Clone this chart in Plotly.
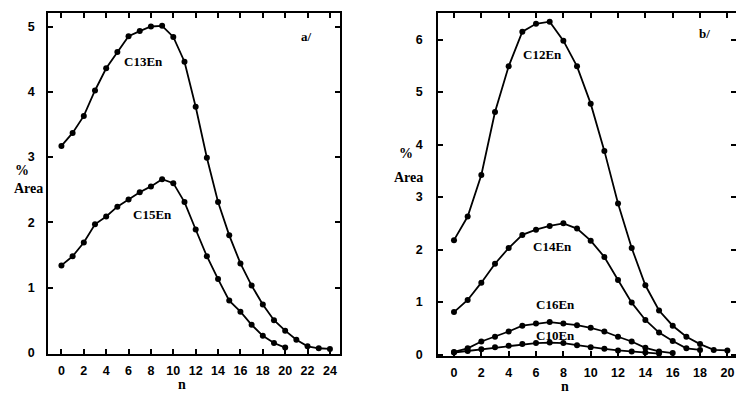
import plotly.graph_objects as go

W, H = 736, 393

# ---- data ----
n_a = list(range(0, 25))
c13en = [3.17, 3.37, 3.63, 4.02, 4.36, 4.61, 4.85, 4.93, 5.00, 5.01, 4.84, 4.46, 3.77,
         2.99, 2.31, 1.80, 1.37, 1.03, 0.74, 0.50, 0.34, 0.20, 0.10, 0.07, 0.06]
n_a15 = list(range(0, 21))
c15en = [1.34, 1.48, 1.69, 1.97, 2.09, 2.24, 2.35, 2.46, 2.55, 2.66, 2.60, 2.31, 1.89,
         1.48, 1.13, 0.80, 0.63, 0.43, 0.26, 0.15, 0.08]

n_b12 = list(range(0, 21))
c12en = [2.18, 2.63, 3.42, 4.62, 5.49, 6.15, 6.30, 6.34, 5.98, 5.49, 4.78, 3.88, 2.88,
         2.03, 1.32, 0.84, 0.55, 0.34, 0.20, 0.09, 0.08]
n_b14 = list(range(0, 19))
c14en = [0.81, 1.04, 1.37, 1.73, 2.03, 2.28, 2.38, 2.45, 2.50, 2.40, 2.17, 1.86, 1.42,
         0.99, 0.66, 0.42, 0.26, 0.12, 0.09]
n_b16 = list(range(0, 17))
c16en = [0.05, 0.12, 0.25, 0.34, 0.44, 0.55, 0.59, 0.62, 0.59, 0.56, 0.51, 0.44, 0.34,
         0.25, 0.13, 0.06, 0.03]
n_b10 = list(range(0, 16))
c10en = [0.04, 0.07, 0.10, 0.14, 0.17, 0.20, 0.22, 0.23, 0.22, 0.18, 0.14, 0.11, 0.08,
         0.06, 0.04, 0.02]

xticks_a = list(range(0, 25, 2))
xticks_b = list(range(0, 21, 2))
yticks_a = [0, 1, 2, 3, 4, 5]
yticks_b = [0, 1, 2, 3, 4, 5, 6]

# ---- figure ----
line_style = dict(color="black", width=1.8)
marker_style = dict(color="black", size=6, symbol="circle")

fig = go.Figure()
for xs, ys in [(n_a, c13en), (n_a15, c15en)]:
    fig.add_trace(go.Scatter(x=xs, y=ys, mode="lines+markers", line=line_style,
                             marker=marker_style, xaxis="x", yaxis="y", showlegend=False))
for xs, ys in [(n_b12, c12en), (n_b14, c14en), (n_b16, c16en), (n_b10, c10en)]:
    fig.add_trace(go.Scatter(x=xs, y=ys, mode="lines+markers", line=line_style,
                             marker=marker_style, xaxis="x2", yaxis="y2", showlegend=False))

tickfont = dict(family="Liberation Sans", size=12.5, color="black", weight="bold")
common = dict(ticks="inside", ticklen=5, tickwidth=1.6, tickcolor="black",
              showgrid=False, zeroline=False, showline=True, linecolor="black",
              linewidth=1.8, tickfont=tickfont)

fig.update_layout(
    width=W, height=H,
    margin=dict(l=0, r=0, t=0, b=0),
    paper_bgcolor="white", plot_bgcolor="white",
    xaxis=dict(domain=[48 / W, 340 / W], range=[-1.2, 24.9], tickvals=xticks_a,
               anchor="y", mirror="ticks", ticklabelstandoff=4, **common),
    yaxis=dict(domain=[1 - 359.3 / H, 1 - 13 / H], range=[-0.015, 5.21], tickvals=yticks_a,
               anchor="x", mirror="ticks", ticklabelstandoff=9, **common),
    xaxis2=dict(domain=[438 / W, 1.0], range=[-1.17, 20.63], tickvals=xticks_b,
                anchor="y2", mirror="ticks", ticklabelstandoff=4, **common),
    yaxis2=dict(domain=[1 - 361.7 / H, 1 - 13 / H], range=[-0.03, 6.51], tickvals=yticks_b,
                anchor="x2", mirror=False, ticklabelstandoff=11, **common),
    yaxis3=dict(overlaying="y2", anchor="x2", side="right", range=[-0.03, 6.51],
                tickvals=yticks_b, ticks="inside", ticklen=5, tickwidth=1.6,
                tickcolor="black", showline=False, showgrid=False, zeroline=False,
                showticklabels=False),
)
# invisible trace that activates the right-hand tick axis
fig.add_trace(go.Scatter(x=[0], y=[0], xaxis="x2", yaxis="y3", mode="markers",
                         marker=dict(opacity=0), showlegend=False, hoverinfo="skip"))

labfont = dict(family="Liberation Serif", size=13, color="black", weight="bold")
curve_labels = [
    ("x", "y", 7.3, 4.47, "C13En"),
    ("x", "y", 8.1, 2.12, "C15En"),
    ("x", "y", 21.9, 4.85, "a/"),
    ("x2", "y2", 6.5, 5.71, "C12En"),
    ("x2", "y2", 7.24, 2.06, "C14En"),
    ("x2", "y2", 7.39, 0.955, "C16En"),
    ("x2", "y2", 7.39, 0.36, "C10En"),
    ("x2", "y2", 18.3, 6.12, "b/"),
]
for xr, yr, x, y, t in curve_labels:
    fig.add_annotation(x=x, y=y, xref=xr, yref=yr, text=t, showarrow=False, font=labfont)

titlefont = dict(family="Liberation Serif", size=14, color="black", weight="bold")
titles = [(21.7, 173, "%"), (28, 191, "Area"), (406, 156, "%"), (408, 180, "Area"),
          (182, 390, "n"), (565, 392, "n")]
for px, py, t in titles:
    fig.add_annotation(x=px / W, y=1 - py / H, xref="paper", yref="paper", text=t,
                       showarrow=False, font=titlefont, xanchor="center", yanchor="middle")

fig.write_html("out.html")
